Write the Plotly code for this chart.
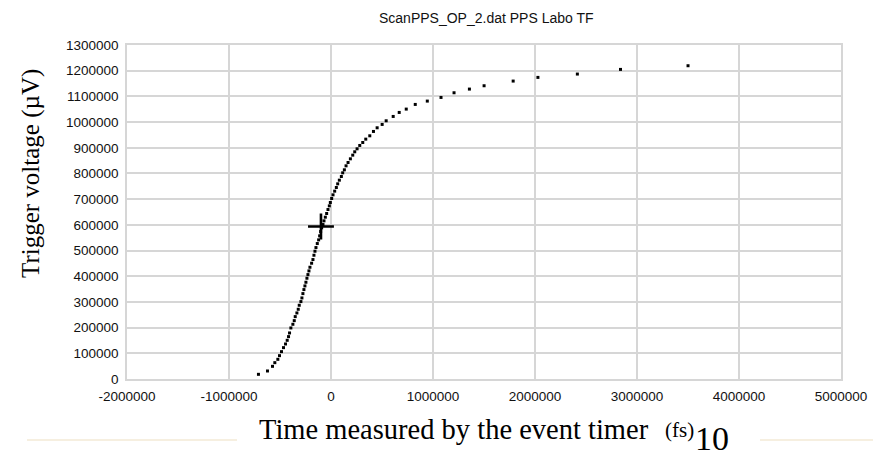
import plotly.graph_objects as go

# ---- data ----
time_fs = [-711300, -622800, -573700, -550700, -521200, -504800, -485100, -465500,
           -445800, -429400, -416300, -406500, -393400, -373700, -360300, -350700,
           -334400, -321200, -311400, -295000, -285200, -275400, -265500, -255700,
           -245900, -236000, -226200, -216300, -206500, -190100, -177000, -167200,
           -157300, -147500, -134400, -121300, -111400, -101600, -91800, -78700,
           -68800, -55700, -42600, -29500, -16400, -6600, 6600, 19700, 36100, 52400,
           65600, 81900, 101600, 114700, 131100, 147500, 167200, 190100, 213100,
           232700, 255700, 281900, 311400, 340900, 380200, 416300, 452400, 501500,
           540900, 609700, 668700, 737600, 826100, 944100, 1078500, 1206300,
           1357000, 1500900, 1786000, 2028600, 2415300, 2838100, 3500300]
voltage_uv = [18200, 31200, 49300, 63600, 76600, 90900, 106500, 122100, 136300,
              150600, 164900, 179200, 198700, 213000, 227200, 242800, 257100,
              271400, 287000, 301300, 315500, 332400, 348000, 362300, 376600,
              392200, 406400, 420700, 435000, 450600, 464900, 481700, 497300,
              511600, 527200, 541500, 557100, 573900, 588200, 601200, 615500,
              629800, 644100, 659600, 673900, 686900, 702500, 716800, 731100,
              745300, 759600, 773900, 788200, 802500, 814200, 829700, 842700,
              857000, 871300, 884300, 896000, 909000, 920600, 933600, 946600,
              963500, 977800, 990800, 1005000, 1021900, 1037500, 1050500, 1068700,
              1081700, 1095900, 1114100, 1128400, 1141400, 1159600, 1173900,
              1186900, 1205000, 1219300]
cross_x = [-98300]
cross_y = [593300]

x_ticks = [-2000000, -1000000, 0, 1000000, 2000000, 3000000, 4000000, 5000000]
y_ticks = [0, 100000, 200000, 300000, 400000, 500000, 600000, 700000, 800000,
           900000, 1000000, 1100000, 1200000, 1300000]

title_text = "ScanPPS_OP_2.dat PPS Labo TF"
x_title = "Time measured by the event timer"
x_unit = "(fs)"
y_title = "Trigger voltage (µV)"
page_no = "10"

# ---- layout geometry (pixels) ----
OFF = 8                      # default page body margin
W, H = 881 - OFF, 459 - OFF
L, R, T, B = 127 - OFF, 40, 45 - OFF, 80
pw, ph = W - L - R, H - T - B


def px(xs):  # screen x -> paper
    return (xs - OFF - L) / pw


def py(ys):  # screen y -> paper
    return (H - B - (ys - OFF)) / ph


grid = "#d6d6d6"
tick_font = dict(family="Liberation Sans, Arial, sans-serif", size=13.5, color="#111")
serif = "Liberation Serif, Times New Roman, serif"

fig = go.Figure()
fig.add_trace(go.Scatter(
    x=time_fs, y=voltage_uv, mode="markers",
    marker=dict(symbol="square", size=3, color="#000", line=dict(width=0)),
    showlegend=False, hoverinfo="x+y"))
fig.add_trace(go.Scatter(
    x=cross_x, y=cross_y, mode="markers",
    marker=dict(symbol="cross-thin", size=18.5, color="#000",
                line=dict(width=2.6, color="#000")),
    showlegend=False))

fig.update_xaxes(range=[x_ticks[0], x_ticks[-1]], tickvals=x_ticks,
                 ticktext=[str(v) for v in x_ticks], showgrid=True,
                 gridcolor=grid, gridwidth=1.5, zeroline=False, showline=True,
                 linecolor=grid, linewidth=1.5, mirror=True, ticks="",
                 tickfont=tick_font, ticklabelstandoff=4, fixedrange=True)
fig.update_yaxes(range=[y_ticks[0], y_ticks[-1]], tickvals=y_ticks,
                 ticktext=[str(v) for v in y_ticks], showgrid=True,
                 gridcolor=grid, gridwidth=1.5, zeroline=False, showline=True,
                 linecolor=grid, linewidth=1.5, mirror=True, ticks="",
                 tickfont=tick_font, ticklabelstandoff=4, fixedrange=True)

annotations = [
    dict(text=title_text, x=px(486), y=py(18), xref="paper", yref="paper",
         showarrow=False, xanchor="center", yanchor="middle",
         font=dict(family="Liberation Sans, Arial, sans-serif", size=14, color="#111")),
    dict(text=y_title, x=px(31), y=py(174), xref="paper", yref="paper",
         showarrow=False, textangle=-90, xanchor="center", yanchor="middle",
         font=dict(family=serif, size=25, color="#000")),
    dict(text=x_title, x=px(257), y=py(447), xref="paper", yref="paper",
         showarrow=False, xanchor="left", yanchor="bottom",
         font=dict(family=serif, size=28.5, color="#000")),
    dict(text=x_unit, x=px(663), y=py(430), xref="paper", yref="paper",
         showarrow=False, xanchor="left", yanchor="middle",
         font=dict(family=serif, size=21, color="#000")),
    dict(text=page_no, x=px(712), y=py(459), xref="paper", yref="paper",
         showarrow=False, xanchor="center", yanchor="bottom",
         font=dict(family=serif, size=34, color="#000")),
]

beige = "#f3ead6"
shapes = [
    dict(type="line", xref="paper", yref="paper", x0=px(27), x1=px(237),
         y0=py(440), y1=py(440), line=dict(color=beige, width=1.5)),
    dict(type="line", xref="paper", yref="paper", x0=px(760), x1=px(881),
         y0=py(440), y1=py(440), line=dict(color=beige, width=1.5)),
    dict(type="line", xref="paper", yref="paper", x0=px(879), x1=px(879),
         y0=py(8), y1=py(440), line=dict(color=beige, width=1.5)),
]

fig.update_layout(width=W, height=H, margin=dict(l=L, r=R, t=T, b=B),
                  paper_bgcolor="white", plot_bgcolor="white",
                  annotations=annotations, shapes=shapes, showlegend=False)

fig.write_html("out.html", config={"displayModeBar": False})
